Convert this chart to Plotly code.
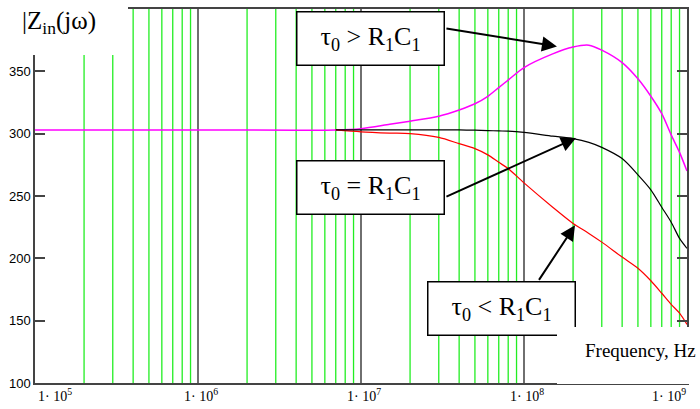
import plotly.graph_objects as go

# Frequency points (Hz) of the computed responses
freq_hz = [7e6, 1e7, 1.5e7, 2e7, 3e7, 4e7, 5e7, 6e7, 7e7, 8e7, 1e8, 1.5e8, 2e8,
           2.5e8, 3e8, 4e8, 5e8, 6e8, 7e8, 8e8, 9e8, 1e9]

# |Zin(jw)| in ohms for the three time-constant cases
z_tau_gt = [303, 304, 307.5, 310, 314, 319, 324, 330, 337, 343, 353, 364, 369.5,
            371, 367, 357, 344, 330, 316, 299, 285, 270]
z_tau_eq = [303, 303, 303, 303, 303, 303, 302.8, 302.5, 302.2, 302, 301, 298, 296,
            293, 289, 280, 267, 255, 241, 229, 216, 208]
z_tau_lt = [303, 301.5, 300.5, 300, 297, 292, 288, 283, 277, 272, 260.5, 241, 228,
            220, 213, 201, 192, 182, 172, 163, 156, 147]

# low-frequency plateau shown for the first case
plateau_hz = [1e5, 1e6]
plateau_z = [303, 303]

# axis ticks
decade_exps = [5, 6, 7, 8, 9]
decade_labels = ["1· 10<sup>%d</sup>" % e for e in decade_exps]
y_ticks = [100, 150, 200, 250, 300, 350]
y_range = [100, 400]
major_grid = [1e6, 1e7, 1e8]
minor_grid = [m * 10 ** k for k in range(5, 9) for m in range(2, 10)]

# case labels and where their arrows point (log10 f, |Z|)
case_texts = ["τ<sub>0</sub> &gt; R<sub>1</sub>C<sub>1</sub>",
              "τ<sub>0</sub> = R<sub>1</sub>C<sub>1</sub>",
              "τ<sub>0</sub> &lt; R<sub>1</sub>C<sub>1</sub>"]
arrow_heads = [(8.202, 370.0), (8.319, 296.5), (8.313, 226.5)]
arrow_tails = [(7.515, 384.5), (7.515, 249.0), (8.086, 181.5)]

W, H = 700, 409
ML, MR, MT, MB = 35, 13, 7, 26
PW, PH = W - ML - MR, H - MT - MB


def px(xp):
    return (xp - ML) / PW


def py(yp):
    return 1 - (yp - MT) / PH


def grid_segments(values):
    xs, ys = [], []
    for v in values:
        xs += [v, v, None]
        ys += [y_range[0], y_range[1], None]
    return xs, ys


SERIF = "Liberation Serif, Times New Roman, serif"
SANS = "Liberation Sans, Arial, sans-serif"
AXIS = "#444444"

fig = go.Figure()

# vertical grid: green at 2..9 within each decade, dark at the decades
gx, gy = grid_segments(minor_grid)
fig.add_trace(go.Scatter(x=gx, y=gy, mode="lines", line=dict(color="#22ee22", width=1.3),
                         hoverinfo="skip", showlegend=False))
gx, gy = grid_segments(major_grid)
fig.add_trace(go.Scatter(x=gx, y=gy, mode="lines", line=dict(color="#222222", width=1.3),
                         hoverinfo="skip", showlegend=False))

fig.add_trace(go.Scatter(x=plateau_hz + freq_hz, y=plateau_z + z_tau_gt, mode="lines",
                         line=dict(color="#ff00ff", width=1.5, shape="spline", smoothing=0.8),
                         showlegend=False))
fig.add_trace(go.Scatter(x=freq_hz, y=z_tau_lt, mode="lines",
                         line=dict(color="#ff0000", width=1.2, shape="spline", smoothing=0.8),
                         showlegend=False))
fig.add_trace(go.Scatter(x=freq_hz, y=z_tau_eq, mode="lines",
                         line=dict(color="#000000", width=1.2, shape="spline", smoothing=0.8),
                         showlegend=False))

ann = []
# arrows from the boxes to the curves
for (hx, hy), (tx, ty) in zip(arrow_heads, arrow_tails):
    ann.append(dict(x=hx, y=hy, xref="x", yref="y", ax=tx, ay=ty, axref="x", ayref="y",
                    text="", showarrow=True, arrowhead=2, arrowsize=1.5, arrowwidth=2,
                    arrowcolor="black", standoff=0))

# boxed case labels
box_centres = [(370.5, 36.5), (370.5, 186), (501.5, 308.5)]
for txt, (cx, cy) in zip(case_texts, box_centres):
    ann.append(dict(x=px(cx), y=py(cy), xref="paper", yref="paper", xanchor="center",
                    yanchor="middle", text=txt, showarrow=False, width=146, height=52,
                    bgcolor="white", bordercolor="black", borderwidth=1.5, borderpad=0,
                    font=dict(family=SERIF, size=26, color="black")))

# white patch behind the axis title at lower right
ann.append(dict(x=px(557), y=py(327), xref="paper", yref="paper", xanchor="left",
                yanchor="top", text=" ", showarrow=False, width=143, height=57,
                bgcolor="white", borderpad=0, borderwidth=0))
ann.append(dict(x=px(698), y=py(350), xref="paper", yref="paper", xanchor="right",
                yanchor="middle", text="Frequency, Hz", showarrow=False,
                font=dict(family=SERIF, size=19, color="black")))

# white patch behind the ordinate title at upper left
ann.append(dict(x=px(0), y=py(0), xref="paper", yref="paper", xanchor="left",
                yanchor="top", text=" ", showarrow=False, width=128, height=53,
                bgcolor="white", borderpad=0, borderwidth=0))
ann.append(dict(x=px(20), y=py(21), xref="paper", yref="paper", xanchor="left",
                yanchor="middle", text="|Z<sub>in</sub>(jω)", showarrow=False,
                font=dict(family=SERIF, size=25, color="black")))

# decade tick labels
for i, (e, lab) in enumerate(zip(decade_exps, decade_labels)):
    anchor = "left" if i == 0 else ("right" if i == len(decade_exps) - 1 else "center")
    shift = 1 if i == 0 else (1 if i == len(decade_exps) - 1 else 3)
    ann.append(dict(x=e, y=0, xref="x", yref="paper", xanchor=anchor, yanchor="top",
                    xshift=shift, yshift=-1, text=lab, showarrow=False,
                    font=dict(family=SERIF, size=14, color="black")))

fig.update_layout(
    width=W, height=H,
    margin=dict(l=ML, r=MR, t=MT, b=MB, pad=0),
    paper_bgcolor="white", plot_bgcolor="white",
    showlegend=False,
    annotations=ann,
    xaxis=dict(type="log", range=[5, 9], showticklabels=False, ticks="", showgrid=False,
               zeroline=False, showline=True, linecolor=AXIS, linewidth=1.5, mirror=True),
    yaxis=dict(range=y_range, tickmode="array", tickvals=y_ticks, ticks="inside",
               ticklen=10, tickwidth=1.5, tickcolor=AXIS, showgrid=False, zeroline=False,
               showline=True, linecolor=AXIS, linewidth=1.5, mirror="ticks",
               tickfont=dict(family=SANS, size=13, color="black")),
)

fig.write_html("out.html")
